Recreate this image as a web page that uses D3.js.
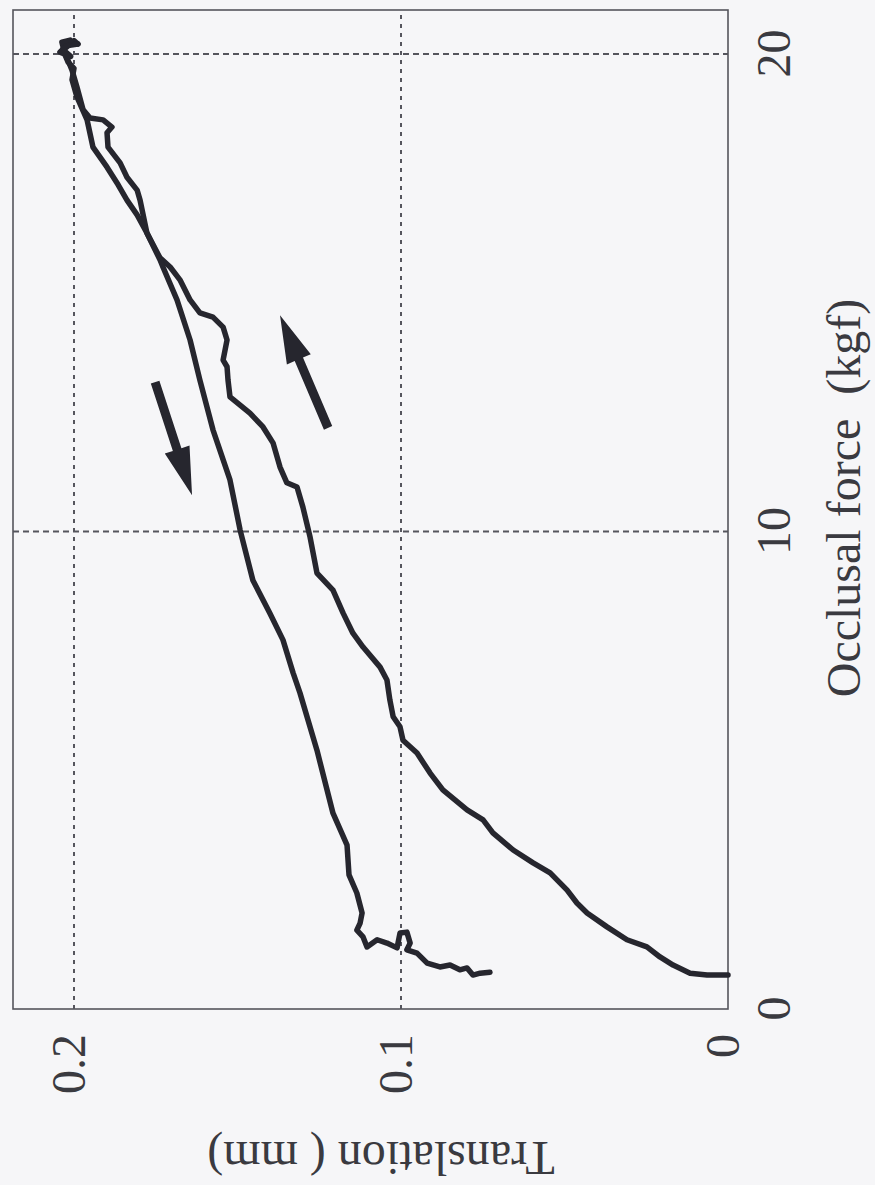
<!DOCTYPE html>
<html>
<head>
<meta charset="utf-8">
<script src="https://cdn.jsdelivr.net/npm/d3@7"></script>
<style>
  html, body { margin: 0; padding: 0; background: #f6f6f8; }
  svg { display: block; }
</style>
</head>
<body>
<script>
// ---- data (force in kgf, translation in mm) ----
const loadingForce = [0.71,0.71,0.71,0.75,0.92,1.09,1.30,1.45,1.72,2.01,2.22,2.49,2.85,3.06,3.33,3.69,3.96,4.17,4.59,4.94,5.36,5.63,5.91,6.12,6.47,6.89,7.16,7.58,7.87,8.29,8.77,9.13,9.88,10.51,10.93,11.02,11.35,11.85,12.19,12.48,12.82,13.17,13.45,13.59,14.01,14.28,14.49,14.58,14.85,15.27,15.54,15.73,16.25,16.94,17.15,17.42,17.72,18.05,18.35,18.47,18.62,18.66,18.83,19.31,19.66,20.08,20.25,20.29,20.10,20.28,20.21];
const loadingTrans = [0,0.0015,0.0064,0.0116,0.0168,0.0208,0.0248,0.0309,0.0370,0.0431,0.0462,0.0492,0.0544,0.0596,0.0657,0.0719,0.0749,0.0798,0.0872,0.0911,0.0951,0.0994,0.1003,0.1024,0.1034,0.1043,0.1064,0.1116,0.1147,0.1177,0.1208,0.1257,0.1278,0.1300,0.1318,0.1349,0.1370,0.1391,0.1422,0.1462,0.1523,0.1529,0.1532,0.1544,0.1532,0.1544,0.1575,0.1615,0.1645,0.1676,0.1706,0.1737,0.1777,0.1798,0.1807,0.1838,0.1859,0.1896,0.1899,0.1884,0.1911,0.1951,0.1972,0.1991,0.2006,0.2031,0.2037,0.2012,0.2030,0.2000,0.1988];
const unloadingForce = [20.21,20.17,20.04,19.95,20.10,19.83,19.70,19.46,19.10,18.62,18.05,17.63,17.26,16.94,16.63,16.25,15.69,15.54,14.85,14.01,13.17,12.13,11.08,10.03,8.98,8.29,7.73,7.04,6.62,5.42,4.10,3.43,2.81,2.43,2.01,1.80,1.65,1.51,1.30,1.45,1.38,1.28,1.59,1.61,1.38,1.24,1.17,0.96,0.88,0.92,0.82,0.86,0.71,0.75,0.77];
const unloadingTrans = [0.1988,0.2024,0.2043,0.2010,0.2035,0.2018,0.2000,0.2006,0.1991,0.1960,0.1942,0.1899,0.1865,0.1838,0.1807,0.1777,0.1737,0.1728,0.1685,0.1645,0.1615,0.1575,0.1523,0.1492,0.1453,0.1401,0.1361,0.1330,0.1309,0.1257,0.1208,0.1165,0.1159,0.1135,0.1119,0.1125,0.1135,0.1116,0.1104,0.1073,0.1043,0.1012,0.1003,0.0982,0.0972,0.0982,0.0951,0.0920,0.0881,0.0850,0.0820,0.0798,0.0780,0.0758,0.0728];
// arrows: [force, translation] tail -> tip
const arrowUp = [[12.17, 0.1223], [14.53, 0.1370]];
const arrowDown = [[13.13, 0.1752], [10.76, 0.1639]];
const forceTicks = [0, 10, 20];
const forceTickLabels = ["0", "10", "20"];
const transTicks = [0, 0.1, 0.2];
const transTickLabels = ["0", "0.1", "0.2"];
const forceTitle = "Occlusal force\u00a0\u00a0(kgf)";
const transTitle = "Translation ( mm)";

const FONT = "'Liberation Serif', 'Times New Roman', Tinos, 'Nimbus Roman', 'DejaVu Serif', serif";

// ---- layout (the whole figure is rotated 90° counter-clockwise) ----
const W = 999, H = 715;
const svg = d3.select("body").append("svg").attr("width", 875).attr("height", 1185);
svg.append("rect").attr("width", 875).attr("height", 1185).attr("fill", "#f6f6f8");
const g = svg.append("g").attr("transform", "translate(13,1009) rotate(-90)");

const x = d3.scaleLinear().domain([0, 20]).range([0, 955]);
const y = d3.scaleLinear().domain([0, 0.2]).range([H, H - 654]);

// grid
g.selectAll(".gx").data([10, 20]).enter().append("line")
  .attr("x1", d => x(d)).attr("x2", d => x(d)).attr("y1", 0).attr("y2", H)
  .attr("stroke", "#55555d").attr("stroke-width", 2).attr("stroke-dasharray", "6,4");
g.selectAll(".gy").data([0.1, 0.2]).enter().append("line")
  .attr("x1", 0).attr("x2", W).attr("y1", d => y(d)).attr("y2", d => y(d))
  .attr("stroke", "#55555d").attr("stroke-width", 2).attr("stroke-dasharray", "4,5");

// frame
g.append("rect").attr("x", 0).attr("y", 0).attr("width", W).attr("height", H)
  .attr("fill", "none").attr("stroke", "#55555c").attr("stroke-width", 1.6);

// axes
const xAxis = g.append("g").attr("transform", `translate(0,${H})`)
  .call(d3.axisBottom(x).tickValues(forceTicks).tickSize(0).tickPadding(28)
    .tickFormat((d, i) => forceTickLabels[i]));
const yAxis = g.append("g")
  .call(d3.axisLeft(y).tickValues(transTicks).tickSize(0).tickPadding(25)
    .tickFormat((d, i) => transTickLabels[i]));
[xAxis, yAxis].forEach(a => {
  a.attr("font-family", null).attr("font-size", null);
  a.select(".domain").remove();
  a.selectAll("text").style("font-family", FONT).style("font-size", "48px").attr("fill", "#3a3a40");
});
yAxis.selectAll("text").attr("dy", "0.22em");

// titles
g.append("text").attr("x", 511).attr("y", H + 132).attr("text-anchor", "middle")
  .style("font-family", FONT).style("font-size", "48px").attr("fill", "#3a3a40").text(forceTitle);
g.append("text").attr("transform", `translate(-133,${H - 347}) rotate(-90)`)
  .attr("text-anchor", "middle").style("font-family", FONT).style("font-size", "48px")
  .attr("fill", "#3a3a40").text(transTitle);

// curves
const line = d3.line().x(d => x(d[0])).y(d => y(d[1]));
const loading = loadingForce.map((f, i) => [f, loadingTrans[i]]);
const unloading = unloadingForce.map((f, i) => [f, unloadingTrans[i]]);
[loading, unloading].forEach(data => {
  g.append("path").datum(data).attr("d", line)
    .attr("fill", "none").attr("stroke", "#26262e").attr("stroke-width", 5.5)
    .attr("stroke-linejoin", "round").attr("stroke-linecap", "round");
});

// arrows
function arrowPoints(a) {
  const x0 = x(a[0][0]), y0 = y(a[0][1]), x1 = x(a[1][0]), y1 = y(a[1][1]);
  const dx = x1 - x0, dy = y1 - y0, L = Math.hypot(dx, dy);
  const ux = dx / L, uy = dy / L, nx = -uy, ny = ux;
  const sw = 4.5, hl = 48, hw = 13;
  const bx = x1 - ux * hl, by = y1 - uy * hl;
  return [
    [x0 + nx * sw, y0 + ny * sw], [bx + nx * sw, by + ny * sw], [bx + nx * hw, by + ny * hw],
    [x1, y1], [bx - nx * hw, by - ny * hw], [bx - nx * sw, by - ny * sw], [x0 - nx * sw, y0 - ny * sw]
  ];
}
[arrowUp, arrowDown].forEach(a => {
  g.append("polygon").attr("points", arrowPoints(a).map(p => p.join(",")).join(" "))
    .attr("fill", "#26262e");
});
</script>
</body>
</html>
